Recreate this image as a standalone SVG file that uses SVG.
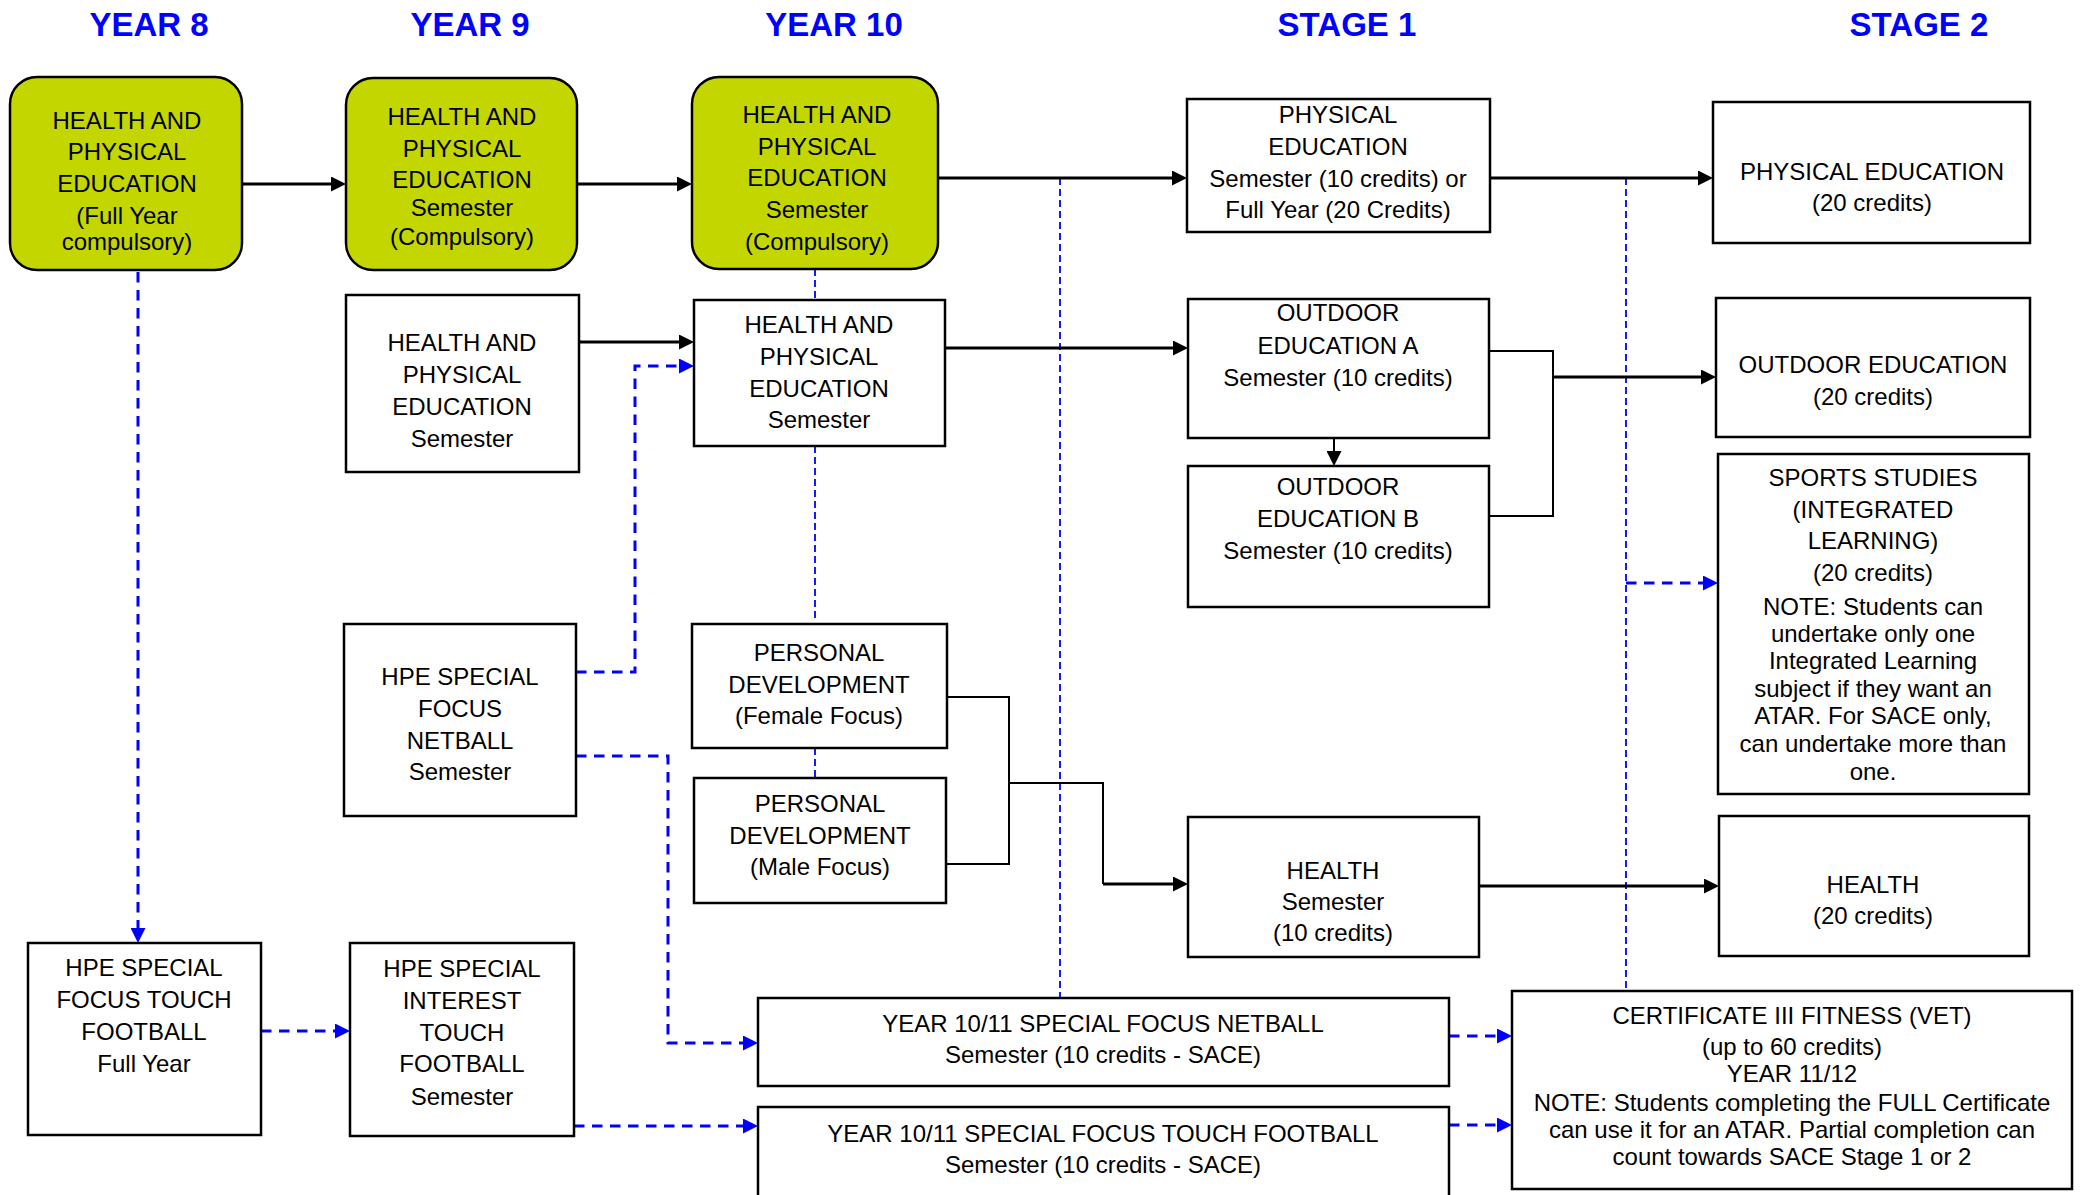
<svg xmlns="http://www.w3.org/2000/svg" width="2083" height="1195" viewBox="0 0 2083 1195">
<style>
.hdr{font-family:"Liberation Sans",Arial,sans-serif;font-weight:bold;font-size:33px;fill:#0000ff;text-anchor:middle}
.t{font-family:"Liberation Sans",Arial,sans-serif;font-size:24px;fill:#000;text-anchor:middle}
.g{fill:#c4d600;stroke:#000;stroke-width:2.5}
.b{fill:#fff;stroke:#000;stroke-width:2.5}
.c{fill:none;stroke:#000;stroke-width:2.8}
.cb{fill:none;stroke:#000;stroke-width:2}
.d{fill:none;stroke:#0000ff;stroke-width:3;stroke-dasharray:10.5 7.5}
.dt{fill:none;stroke:#0000ff;stroke-width:1.8;stroke-dasharray:7 4}
</style>
<defs>
<marker id="ak" viewBox="0 0 15 15" refX="3" refY="7.5" markerWidth="15" markerHeight="15" markerUnits="userSpaceOnUse" orient="auto"><path d="M0,0 L15,7.5 L0,15 z" fill="#000"/></marker>
<marker id="ab" viewBox="0 0 15 15" refX="3" refY="7.5" markerWidth="15" markerHeight="15" markerUnits="userSpaceOnUse" orient="auto"><path d="M0,0 L15,7.5 L0,15 z" fill="#0000ff"/></marker>
</defs>
<rect width="2083" height="1195" fill="#fff"/>
<g id="headers">
<text class="hdr" x="149" y="36">YEAR 8</text>
<text class="hdr" x="470" y="36">YEAR 9</text>
<text class="hdr" x="834" y="36">YEAR 10</text>
<text class="hdr" x="1347" y="36">STAGE 1</text>
<text class="hdr" x="1919" y="36">STAGE 2</text>
</g>
<g id="connectors">
<path class="dt" d="M815,269 V300 M815,446 V622 M815,748 V778"/>
<path class="dt" d="M1060,178 V998"/>
<path class="dt" d="M1626,178 V991"/>
<path class="c" d="M242,184 H334" marker-end="url(#ak)"/>
<path class="c" d="M577,184 H680" marker-end="url(#ak)"/>
<path class="c" d="M938,178 H1175" marker-end="url(#ak)"/>
<path class="c" d="M1490,178 H1701" marker-end="url(#ak)"/>
<path class="c" d="M579,342 H682" marker-end="url(#ak)"/>
<path class="c" d="M945,348 H1176" marker-end="url(#ak)"/>
<path class="cb" d="M1334,438 V454" marker-end="url(#ak)"/>
<path class="cb" d="M1489,351 H1553 V516 H1489"/>
<path class="c" d="M1553,377 H1704" marker-end="url(#ak)"/>
<path class="cb" d="M947,697 H1009 V864 H946"/>
<path class="cb" d="M1009,783 H1103 V884"/>
<path class="c" d="M1103,884 H1176" marker-end="url(#ak)"/>
<path class="c" d="M1479,886 H1707" marker-end="url(#ak)"/>
<path class="d" d="M138,272 V931" marker-end="url(#ab)"/>
<path class="d" d="M261,1031 H338" marker-end="url(#ab)"/>
<path class="d" d="M576,672 H635 V366 H682" marker-end="url(#ab)"/>
<path class="d" d="M576,756 H668 V1043 H746" marker-end="url(#ab)"/>
<path class="d" d="M574,1126 H746" marker-end="url(#ab)"/>
<path class="d" d="M1449,1036 H1500" marker-end="url(#ab)"/>
<path class="d" d="M1449,1125 H1500" marker-end="url(#ab)"/>
<path class="d" d="M1626,583 H1706" marker-end="url(#ab)"/>
</g>
<g id="y8_hpe">
<rect class="g" x="10" y="77" width="232" height="193" rx="27"/>
<text class="t" x="127" y="129">HEALTH AND</text>
<text class="t" x="127" y="160">PHYSICAL</text>
<text class="t" x="127" y="192">EDUCATION</text>
<text class="t" x="127" y="224">(Full Year</text>
<text class="t" x="127" y="250">compulsory)</text>
</g>
<g id="y9_hpe">
<rect class="g" x="346" y="78" width="231" height="192" rx="27"/>
<text class="t" x="462" y="125">HEALTH AND</text>
<text class="t" x="462" y="157">PHYSICAL</text>
<text class="t" x="462" y="188">EDUCATION</text>
<text class="t" x="462" y="216">Semester</text>
<text class="t" x="462" y="245">(Compulsory)</text>
</g>
<g id="y10_hpe">
<rect class="g" x="692" y="77" width="246" height="192" rx="27"/>
<text class="t" x="817" y="123">HEALTH AND</text>
<text class="t" x="817" y="155">PHYSICAL</text>
<text class="t" x="817" y="186">EDUCATION</text>
<text class="t" x="817" y="218">Semester</text>
<text class="t" x="817" y="250">(Compulsory)</text>
</g>
<g id="s1_pe">
<rect class="b" x="1187" y="99" width="303" height="133"/>
<text class="t" x="1338" y="123">PHYSICAL</text>
<text class="t" x="1338" y="155">EDUCATION</text>
<text class="t" x="1338" y="187">Semester (10 credits) or</text>
<text class="t" x="1338" y="218">Full Year (20 Credits)</text>
</g>
<g id="s2_pe">
<rect class="b" x="1713" y="102" width="317" height="141"/>
<text class="t" x="1872" y="180">PHYSICAL EDUCATION</text>
<text class="t" x="1872" y="211">(20 credits)</text>
</g>
<g id="y9_hpe_sem">
<rect class="b" x="346" y="295" width="233" height="177"/>
<text class="t" x="462" y="351">HEALTH AND</text>
<text class="t" x="462" y="383">PHYSICAL</text>
<text class="t" x="462" y="415">EDUCATION</text>
<text class="t" x="462" y="447">Semester</text>
</g>
<g id="y10_hpe_sem">
<rect class="b" x="694" y="300" width="251" height="146"/>
<text class="t" x="819" y="333">HEALTH AND</text>
<text class="t" x="819" y="365">PHYSICAL</text>
<text class="t" x="819" y="397">EDUCATION</text>
<text class="t" x="819" y="428">Semester</text>
</g>
<g id="s1_outdoor_a">
<rect class="b" x="1188" y="299" width="301" height="139"/>
<text class="t" x="1338" y="321">OUTDOOR</text>
<text class="t" x="1338" y="354">EDUCATION A</text>
<text class="t" x="1338" y="386">Semester (10 credits)</text>
</g>
<g id="s1_outdoor_b">
<rect class="b" x="1188" y="466" width="301" height="141"/>
<text class="t" x="1338" y="495">OUTDOOR</text>
<text class="t" x="1338" y="527">EDUCATION B</text>
<text class="t" x="1338" y="559">Semester (10 credits)</text>
</g>
<g id="s2_outdoor">
<rect class="b" x="1716" y="298" width="314" height="139"/>
<text class="t" x="1873" y="373">OUTDOOR EDUCATION</text>
<text class="t" x="1873" y="405">(20 credits)</text>
</g>
<g id="s2_sports">
<rect class="b" x="1718" y="454" width="311" height="340"/>
<text class="t" x="1873" y="486">SPORTS STUDIES</text>
<text class="t" x="1873" y="518">(INTEGRATED</text>
<text class="t" x="1873" y="549">LEARNING)</text>
<text class="t" x="1873" y="581">(20 credits)</text>
<text class="t" x="1873" y="615">NOTE: Students can</text>
<text class="t" x="1873" y="642">undertake only one</text>
<text class="t" x="1873" y="669">Integrated Learning</text>
<text class="t" x="1873" y="697">subject if they want an</text>
<text class="t" x="1873" y="724">ATAR. For SACE only,</text>
<text class="t" x="1873" y="752">can undertake more than</text>
<text class="t" x="1873" y="780">one.</text>
</g>
<g id="y9_netball">
<rect class="b" x="344" y="624" width="232" height="192"/>
<text class="t" x="460" y="685">HPE SPECIAL</text>
<text class="t" x="460" y="717">FOCUS</text>
<text class="t" x="460" y="749">NETBALL</text>
<text class="t" x="460" y="780">Semester</text>
</g>
<g id="y10_pd_female">
<rect class="b" x="692" y="624" width="255" height="124"/>
<text class="t" x="819" y="661">PERSONAL</text>
<text class="t" x="819" y="693">DEVELOPMENT</text>
<text class="t" x="819" y="724">(Female Focus)</text>
</g>
<g id="y10_pd_male">
<rect class="b" x="694" y="778" width="252" height="125"/>
<text class="t" x="820" y="812">PERSONAL</text>
<text class="t" x="820" y="844">DEVELOPMENT</text>
<text class="t" x="820" y="875">(Male Focus)</text>
</g>
<g id="s1_health">
<rect class="b" x="1188" y="817" width="291" height="140"/>
<text class="t" x="1333" y="879">HEALTH</text>
<text class="t" x="1333" y="910">Semester</text>
<text class="t" x="1333" y="941">(10 credits)</text>
</g>
<g id="s2_health">
<rect class="b" x="1719" y="816" width="310" height="140"/>
<text class="t" x="1873" y="893">HEALTH</text>
<text class="t" x="1873" y="924">(20 credits)</text>
</g>
<g id="y8_touch">
<rect class="b" x="28" y="943" width="233" height="192"/>
<text class="t" x="144" y="976">HPE SPECIAL</text>
<text class="t" x="144" y="1008">FOCUS TOUCH</text>
<text class="t" x="144" y="1040">FOOTBALL</text>
<text class="t" x="144" y="1072">Full Year</text>
</g>
<g id="y9_touch">
<rect class="b" x="350" y="943" width="224" height="193"/>
<text class="t" x="462" y="977">HPE SPECIAL</text>
<text class="t" x="462" y="1009">INTEREST</text>
<text class="t" x="462" y="1041">TOUCH</text>
<text class="t" x="462" y="1072">FOOTBALL</text>
<text class="t" x="462" y="1105">Semester</text>
</g>
<g id="y1011_netball">
<rect class="b" x="758" y="998" width="691" height="88"/>
<text class="t" x="1103" y="1032">YEAR 10/11 SPECIAL FOCUS NETBALL</text>
<text class="t" x="1103" y="1063">Semester (10 credits - SACE)</text>
</g>
<g id="y1011_touch">
<rect class="b" x="758" y="1107" width="691" height="100"/>
<text class="t" x="1103" y="1142">YEAR 10/11 SPECIAL FOCUS TOUCH FOOTBALL</text>
<text class="t" x="1103" y="1173">Semester (10 credits - SACE)</text>
</g>
<g id="cert3">
<rect class="b" x="1512" y="991" width="560" height="198"/>
<text class="t" x="1792" y="1024">CERTIFICATE III FITNESS (VET)</text>
<text class="t" x="1792" y="1055">(up to 60 credits)</text>
<text class="t" x="1792" y="1082">YEAR 11/12</text>
<text class="t" x="1792" y="1111">NOTE: Students completing the FULL Certificate</text>
<text class="t" x="1792" y="1138">can use it for an ATAR. Partial completion can</text>
<text class="t" x="1792" y="1165">count towards SACE Stage 1 or 2</text>
</g>
</svg>
